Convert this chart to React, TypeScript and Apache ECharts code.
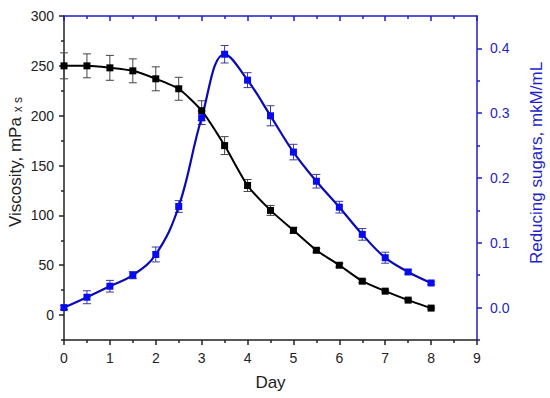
import React, { useEffect, useRef } from "react";
import * as echarts from "echarts";

const days = [0, 0.5, 1, 1.5, 2, 2.5, 3, 3.5, 4, 4.5, 5, 5.5, 6, 6.5, 7, 7.5, 8];
const viscosity = [250, 250, 248, 245, 237, 227, 205, 170, 130, 105, 85, 65, 50, 34, 24, 15, 7];
const viscosityErr = [13, 12, 12.5, 12, 12, 11.5, 10, 9, 6, 5, 3, 2, 2, 1.5, 1, 1, 1];
const sugars = [0.0, 0.016, 0.033, 0.05, 0.082, 0.156, 0.293, 0.391, 0.351, 0.296, 0.24, 0.195, 0.155, 0.113, 0.077, 0.055, 0.038];
const sugarsErr = [0.003, 0.01, 0.009, 0.0055, 0.0115, 0.009, 0.0105, 0.0135, 0.0115, 0.0155, 0.012, 0.0105, 0.009, 0.009, 0.0085, 0.003, 0.002];

const leftTicks = [0, 50, 100, 150, 200, 250, 300];
const leftMinorTicks = [-25, 25, 75, 125, 175, 225, 275];
const rightTicks = [0, 0.1, 0.2, 0.3, 0.4];
const rightMinorTicks = [-0.05, 0.05, 0.15, 0.25, 0.35];

const BLUE_AXIS = "#1f1fc8";
const BLUE_LINE = "#0a0ab4";
const BLUE_MARK = "#0a0af0";
const FONT = "Liberation Sans, Arial, sans-serif";

function errRender(color: string) {
  return (params: any, api: any) => {
    const x = api.value(0);
    const lo = api.value(1);
    const hi = api.value(2);
    const p1 = api.coord([x, lo]);
    const p2 = api.coord([x, hi]);
    const w = 4;
    const st = { stroke: color, lineWidth: 1 };
    return {
      type: "group",
      children: [
        { type: "line", shape: { x1: p1[0], y1: p1[1], x2: p2[0], y2: p2[1] }, style: st },
        { type: "line", shape: { x1: p1[0] - w, y1: p1[1], x2: p1[0] + w, y2: p1[1] }, style: st },
        { type: "line", shape: { x1: p2[0] - w, y1: p2[1], x2: p2[0] + w, y2: p2[1] }, style: st },
      ],
    };
  };
}

export default function App() {
  const ref = useRef<HTMLDivElement>(null);
  useEffect(() => {
    if (!ref.current) return;
    const chart = echarts.init(ref.current, null, { renderer: "svg" });
    const visErrData = days.map((d, i) => [d, viscosity[i] - viscosityErr[i], viscosity[i] + viscosityErr[i]]);
    const sugErrData = days.map((d, i) => [d, sugars[i] - sugarsErr[i], sugars[i] + sugarsErr[i]]);
    const labelStyle = { fontFamily: FONT, fontSize: 14, color: "#222" };
    chart.setOption({
      animation: false,
      backgroundColor: "#fff",
      grid: { left: 64, right: 73, top: 16, bottom: 58 },
      xAxis: [
        {
          type: "value",
          min: 0,
          max: 9,
          interval: 1,
          position: "bottom",
          name: "Day",
          nameLocation: "middle",
          nameGap: 34,
          nameTextStyle: { fontFamily: FONT, fontSize: 17, color: "#222" },
          axisLine: { onZero: false, lineStyle: { color: "#222", width: 1.5 } },
          axisTick: { inside: false, length: 5, lineStyle: { color: "#222", width: 1.5 } },
          minorTick: { show: true, splitNumber: 2, length: 3, lineStyle: { color: "#222", width: 1.5 } },
          axisLabel: { ...labelStyle, margin: 11 },
          splitLine: { show: false },
          minorSplitLine: { show: false },
        },
        {
          type: "value",
          min: 0,
          max: 9,
          interval: 1,
          position: "top",
          axisLine: { onZero: false, lineStyle: { color: BLUE_AXIS, width: 1.5 } },
          axisTick: { inside: true, length: 5, lineStyle: { color: BLUE_AXIS, width: 1.5 } },
          minorTick: { show: true, splitNumber: 2, length: 3, lineStyle: { color: BLUE_AXIS, width: 1.5 } },
          axisLabel: { show: false },
          splitLine: { show: false },
          minorSplitLine: { show: false },
        },
      ],
      yAxis: [
        {
          type: "value",
          min: -25,
          max: 300,
          position: "left",
          axisLine: { show: true, onZero: false, lineStyle: { color: "#222", width: 1.5 } },
          axisTick: { show: true, inside: false, length: 5, customValues: leftTicks, lineStyle: { color: "#222", width: 1.5 } },
          axisLabel: { ...labelStyle, margin: 10, customValues: leftTicks },
          splitLine: { show: false },
        },
        {
          type: "value",
          min: -0.05,
          max: 0.45,
          position: "right",
          axisLine: { show: true, onZero: false, lineStyle: { color: BLUE_AXIS, width: 1.5 } },
          axisTick: { show: true, inside: false, length: 5, customValues: rightTicks, lineStyle: { color: BLUE_AXIS, width: 1.5 } },
          axisLabel: {
            ...labelStyle,
            color: BLUE_AXIS,
            margin: 13,
            customValues: rightTicks,
            formatter: (v: number) => v.toFixed(1),
          },
          splitLine: { show: false },
        },
        {
          type: "value",
          min: -25,
          max: 300,
          position: "left",
          axisLine: { show: false, onZero: false },
          axisTick: { show: true, inside: false, length: 3, customValues: leftMinorTicks, lineStyle: { color: "#222", width: 1.5 } },
          axisLabel: { show: false },
          splitLine: { show: false },
        },
        {
          type: "value",
          min: -0.05,
          max: 0.45,
          position: "right",
          axisLine: { show: false, onZero: false },
          axisTick: { show: true, inside: false, length: 3, customValues: rightMinorTicks, lineStyle: { color: BLUE_AXIS, width: 1.5 } },
          axisLabel: { show: false },
          splitLine: { show: false },
        },
      ],
      series: [
        {
          type: "custom",
          xAxisIndex: 0,
          yAxisIndex: 0,
          renderItem: errRender("#444"),
          encode: { x: 0, y: [1, 2] },
          data: visErrData,
          z: 1,
          silent: true,
        },
        {
          type: "custom",
          xAxisIndex: 0,
          yAxisIndex: 1,
          renderItem: errRender("#3a3a9a"),
          encode: { x: 0, y: [1, 2] },
          data: sugErrData,
          z: 1,
          silent: true,
        },
        {
          type: "line",
          xAxisIndex: 0,
          yAxisIndex: 0,
          data: days.map((d, i) => [d, viscosity[i]]),
          smooth: 0.2,
          symbol: "rect",
          symbolSize: 7,
          lineStyle: { color: "#000", width: 2 },
          itemStyle: { color: "#000" },
          z: 3,
        },
        {
          type: "line",
          xAxisIndex: 0,
          yAxisIndex: 1,
          data: days.map((d, i) => [d, sugars[i]]),
          smooth: 0.4,
          symbol: "rect",
          symbolSize: 7,
          lineStyle: { color: BLUE_LINE, width: 2.2 },
          itemStyle: { color: BLUE_MARK },
          z: 3,
        },
      ],
      graphic: [
        {
          type: "text",
          x: 15,
          y: 162,
          rotation: Math.PI / 2,
          style: {
            text: "{a|Viscosity, mPa }{b|x s}",
            align: "center",
            verticalAlign: "middle",
            fill: "#222",
            rich: {
              a: { fontFamily: FONT, fontSize: 17, fill: "#222", color: "#222" },
              b: { fontFamily: FONT, fontSize: 12, fill: "#222", color: "#222", padding: [5, 0, 0, 0] },
            },
          },
        },
        {
          type: "text",
          x: 536,
          y: 163,
          rotation: Math.PI / 2,
          style: {
            text: "Reducing sugars, mkM/mL",
            align: "center",
            verticalAlign: "middle",
            fill: BLUE_AXIS,
            font: `17px ${FONT}`,
          },
        },
      ],
    });
    return () => chart.dispose();
  }, []);
  return <div ref={ref} style={{ width: 550, height: 398, position: "absolute", left: 0, top: 0 }} />;
}
